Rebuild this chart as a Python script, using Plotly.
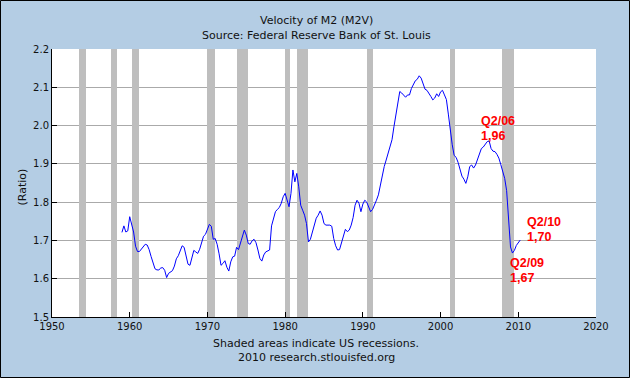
import plotly.graph_objects as go

# ---- Data (quarterly M2 velocity, 1959Q1 .. 2010Q2) ----
start_year = 1959
m2v = [
    1.721, 1.738, 1.722, 1.725, 1.762, 1.745, 1.722, 1.685, 1.671, 1.671,
    1.677, 1.684, 1.690, 1.688, 1.676, 1.658, 1.640, 1.626, 1.623, 1.623,
    1.628, 1.629, 1.622, 1.603, 1.614, 1.618, 1.621, 1.633, 1.652, 1.660,
    1.675, 1.686, 1.682, 1.657, 1.638, 1.635, 1.652, 1.674, 1.670, 1.666,
    1.677, 1.694, 1.711, 1.716, 1.728, 1.742, 1.737, 1.703, 1.705, 1.690,
    1.665, 1.635, 1.640, 1.647, 1.630, 1.620, 1.644, 1.657, 1.659, 1.682,
    1.676, 1.692, 1.709, 1.727, 1.714, 1.692, 1.690, 1.699, 1.703, 1.694,
    1.675, 1.653, 1.646, 1.662, 1.670, 1.673, 1.675, 1.738, 1.758, 1.775,
    1.781, 1.786, 1.797, 1.814, 1.823, 1.805, 1.788, 1.823, 1.884, 1.853,
    1.875, 1.840, 1.792, 1.779, 1.766, 1.744, 1.696, 1.703, 1.723, 1.740,
    1.758, 1.766, 1.777, 1.766, 1.744, 1.740, 1.740, 1.740, 1.737, 1.705,
    1.686, 1.675, 1.676, 1.693, 1.709, 1.729, 1.723, 1.727, 1.740, 1.760,
    1.792, 1.805, 1.797, 1.775, 1.795, 1.805, 1.800, 1.788, 1.775, 1.781,
    1.792, 1.805, 1.819, 1.845, 1.871, 1.893, 1.910, 1.928, 1.941, 1.963,
    1.997, 2.032, 2.066, 2.089, 2.085, 2.078, 2.074, 2.080, 2.080, 2.097,
    2.108, 2.117, 2.121, 2.130, 2.124, 2.107, 2.095, 2.092, 2.085, 2.076,
    2.067, 2.072, 2.083, 2.076, 2.088, 2.092, 2.080, 2.068, 2.030, 1.985,
    1.950, 1.922, 1.917, 1.904, 1.886, 1.868, 1.860, 1.849, 1.866, 1.893,
    1.897, 1.889, 1.897, 1.910, 1.926, 1.940, 1.944, 1.950, 1.958, 1.960,
    1.940, 1.933, 1.932, 1.925, 1.915, 1.898, 1.880, 1.862, 1.830, 1.765,
    1.683, 1.667, 1.674, 1.687, 1.696, 1.701,
]
years = [start_year + i / 4 for i in range(len(m2v))]

# US recessions (NBER peak / trough months)
recession_starts = ["1953-07", "1957-08", "1960-04", "1969-12", "1973-11",
                    "1980-01", "1981-07", "1990-07", "2001-03", "2007-12"]
recession_ends = ["1954-05", "1958-04", "1961-02", "1970-11", "1975-03",
                  "1980-07", "1982-11", "1991-03", "2001-11", "2009-06"]

x_ticks = [1950, 1960, 1970, 1980, 1990, 2000, 2010, 2020]
y_ticks = [1.5, 1.6, 1.7, 1.8, 1.9, 2.0, 2.1, 2.2]

# Callout labels (text, x in years, y in ratio units)
callout_texts = ["Q2/06", "1,96", "Q2/10", "1,70", "Q2/09", "1,67"]
callout_x = [2005.0, 2005.0, 2010.92, 2010.92, 2008.63, 2008.63]
callout_y = [2.012, 1.973, 1.749, 1.709, 1.640, 1.601]


def ym(s):
    y, m = s.split("-")
    return int(y) + (int(m) - 1) / 12


W, H = 630, 378
L, R, T, B = 52, 34, 49, 61
PW, PH = W - L - R, H - T - B
Y_MIN, Y_MAX = 1.5, 2.2


def px_x(px):
    return (px - L) / PW


def px_y(py):
    return (H - B - py) / PH


BG = "#b4cde4"
TXT = "#111111"
FONT = "DejaVu Sans"

rec_x0 = [ym(s) for s in recession_starts]
rec_x1 = [ym(e) + 1 / 12 for e in recession_ends]
rec_center = [(a + b) / 2 for a, b in zip(rec_x0, rec_x1)]
rec_width = [b - a for a, b in zip(rec_x0, rec_x1)]

fig = go.Figure()
# recession shading as bars spanning the full y range (drawn above gridlines)
fig.add_trace(go.Bar(x=rec_center, y=[Y_MAX - Y_MIN] * len(rec_center),
                     base=Y_MIN, width=rec_width,
                     marker=dict(color="#bebebe", line=dict(width=0)),
                     hoverinfo="skip", showlegend=False))
fig.add_trace(go.Scatter(x=years, y=m2v, mode="lines",
                         line=dict(color="#0000ff", width=1),
                         hoverinfo="skip", showlegend=False))

shapes = [dict(type="rect", xref="paper", yref="paper",
               x0=px_x(0.5), x1=px_x(W - 0.5),
               y0=px_y(H - 0.5), y1=px_y(0.5),
               line=dict(color="black", width=1), fillcolor="rgba(0,0,0,0)")]

annotations = [
    dict(text="Velocity of M2 (M2V)", x=px_x(316), y=px_y(12),
         xref="paper", yref="paper", showarrow=False,
         font=dict(family=FONT, size=11, color=TXT)),
    dict(text="Source: Federal Reserve Bank of St. Louis", x=px_x(316), y=px_y(27),
         xref="paper", yref="paper", showarrow=False,
         font=dict(family=FONT, size=11, color=TXT)),
    dict(text="(Ratio)", x=px_x(13), y=px_y(187), textangle=-90,
         xref="paper", yref="paper", showarrow=False,
         font=dict(family=FONT, size=11, color=TXT)),
    dict(text="Shaded areas indicate US recessions.", x=px_x(316), y=px_y(352),
         xref="paper", yref="paper", showarrow=False,
         font=dict(family=FONT, size=11, color=TXT)),
    dict(text="2010 research.stlouisfed.org", x=px_x(316), y=px_y(366),
         xref="paper", yref="paper", showarrow=False,
         font=dict(family=FONT, size=11, color=TXT)),
]
for t, xv, yv in zip(callout_texts, callout_x, callout_y):
    annotations.append(dict(text="<b>%s</b>" % t, x=xv, y=yv, xref="x", yref="y",
                            xanchor="left", yanchor="middle", showarrow=False,
                            font=dict(family="Liberation Sans", size=12.5,
                                      color="#ff0000")))

fig.update_layout(
    width=W, height=H,
    margin=dict(l=L, r=R, t=T, b=B, pad=0),
    paper_bgcolor=BG, plot_bgcolor="white",
    shapes=shapes, annotations=annotations,
    showlegend=False, barmode="overlay", bargap=0,
    hovermode=False,
    xaxis=dict(range=[1950, 2020], tickvals=x_ticks, showgrid=False,
               zeroline=False, showline=True, linecolor="black", linewidth=1,
               ticks="inside", ticklen=5, tickcolor="black",
               tickfont=dict(family=FONT, size=10, color=TXT)),
    yaxis=dict(range=[Y_MIN, Y_MAX], tickvals=y_ticks, tickformat=".1f",
               showgrid=True, gridcolor="#aaaaaa", gridwidth=1,
               zeroline=False, showline=True, linecolor="black", linewidth=1,
               ticks="inside", ticklen=5, tickcolor="black",
               tickfont=dict(family=FONT, size=10, color=TXT)),
)

# remove the browser's default page margin so the figure sits at (0, 0)
fig.write_html("out.html",
               config={"displayModeBar": False, "staticPlot": True},
               post_script="document.body.style.margin='0';"
                           "document.body.style.overflow='hidden';")
